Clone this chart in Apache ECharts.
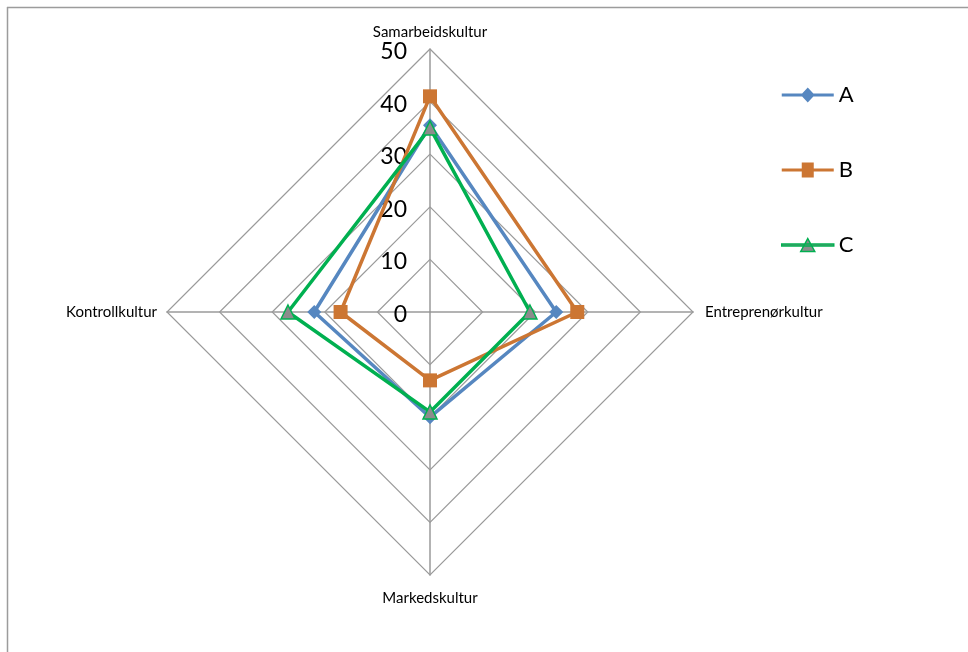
<!DOCTYPE html>
<html>
<head>
<meta charset="utf-8">
<script src="https://cdn.jsdelivr.net/npm/echarts@6/dist/echarts.min.js"></script>
<style>
  html, body { margin: 0; padding: 0; background: #ffffff; }
  #chart { width: 968px; height: 652px; }
</style>
</head>
<body>
<div id="chart"></div>
<script>
// Indicators listed counter-clockwise from the top
const categories = ['Samarbeidskultur', 'Kontrollkultur', 'Markedskultur', 'Entreprenørkultur'];
const seriesNames = ['A', 'B', 'C'];
const valuesA = [35.5, 22, 20, 24];
const valuesB = [41, 17, 13, 28];
const valuesC = [35, 27, 19, 19];
const tickLabels = ['0', '10', '20', '30', '40', '50'];

const FONT = 'Lato, "Open Sans", "DejaVu Sans", sans-serif';
const colA = '#5687c0';
const colB = '#cc7633';
const colC = '#00b050';
const gridCol = '#9a9a9a';

// distance between each indicator's name and the outer ring
const nameGaps = [9, 10, 16, 12];

const chart = echarts.init(document.getElementById('chart'), null, { renderer: 'canvas' });

const indicator = categories.map(function (name, i) {
  const ind = { name: name, min: 0, max: 50, nameGap: nameGaps[i] };
  if (i === 0) {
    ind.axisLabel = {
      show: true,
      color: '#000',
      fontSize: 23,
      fontFamily: FONT,
      margin: 23,
      verticalAlign: 'top',
      padding: [-9, 0, 0, 0],
      formatter: function (v, idx) { return tickLabels[idx]; }
    };
  }
  return ind;
});

chart.setOption({
  backgroundColor: '#ffffff',
  animation: false,
  graphic: [
    { type: 'line', shape: { x1: 7, y1: 7.5, x2: 968, y2: 7.5 }, style: { stroke: '#9c9c9c', lineWidth: 1.5 } },
    { type: 'line', shape: { x1: 7.5, y1: 7, x2: 7.5, y2: 652 }, style: { stroke: '#9c9c9c', lineWidth: 1.5 } }
  ],
  legend: {
    orient: 'vertical',
    left: 776,
    top: 79,
    itemWidth: 52,
    itemHeight: 15,
    itemGap: 53,
    textStyle: { color: '#000', fontSize: 22, fontFamily: FONT },
    data: [
      { name: 'A', icon: 'path://M0,6H52V9H0Z M26,0L33,7.5L26,15L19,7.5Z', itemStyle: { color: colA, borderWidth: 0 } },
      { name: 'B', icon: 'path://M0,6H52V9H0Z M20,0H32V15H20Z', itemStyle: { color: colB, borderWidth: 0 } },
      { name: 'C', icon: 'path://M0,6.5H52V8.5H0Z M26,1L33,14H19Z', itemStyle: { color: '#8c8c8c', borderColor: colC, borderWidth: 1.5 } }
    ]
  },
  radar: {
    center: [430, 312],
    radius: 263,
    startAngle: 90,
    shape: 'polygon',
    splitNumber: 5,
    indicator: indicator,
    axisName: { color: '#000', fontSize: 15, fontFamily: FONT },
    splitLine: { lineStyle: { color: gridCol, width: 1.2 } },
    splitArea: { show: false },
    axisLine: { lineStyle: { color: gridCol, width: 1.5 } },
    axisTick: { show: false },
    axisLabel: { show: false }
  },
  series: [{
    type: 'radar',
    data: [
      {
        name: seriesNames[0], value: valuesA,
        symbol: 'diamond', symbolSize: 14,
        lineStyle: { color: colA, width: 3.5 },
        itemStyle: { color: colA }
      },
      {
        name: seriesNames[1], value: valuesB,
        symbol: 'rect', symbolSize: 14,
        lineStyle: { color: colB, width: 3.5 },
        itemStyle: { color: colB }
      },
      {
        name: seriesNames[2], value: valuesC,
        symbol: 'triangle', symbolSize: 14,
        lineStyle: { color: colC, width: 3.5 },
        itemStyle: { color: '#8c8c8c', borderColor: colC, borderWidth: 1.5 }
      }
    ]
  }]
});
</script>
</body>
</html>
